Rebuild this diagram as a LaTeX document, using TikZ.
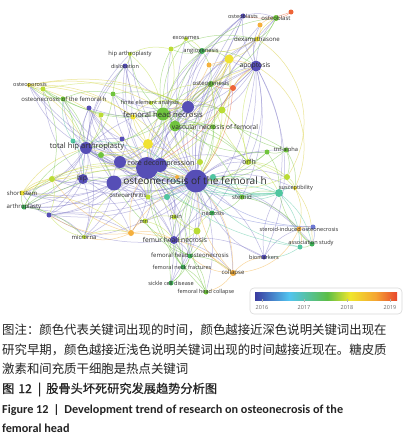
\documentclass[tikz,border=0pt]{standalone}
\usepackage{fontspec}
\setmainfont{Open Sans}
\newfontfamily\labf{Open Sans}
\newfontfamily\cjk{Noto Sans CJK SC}
\newfontfamily\cjkm[FakeBold=0.6]{Noto Sans CJK SC}
\newfontfamily\capf{Carlito}
\usetikzlibrary{backgrounds}
\definecolor{cpur}{RGB}{86,78,182}
\definecolor{cblue}{RGB}{110,122,212}
\definecolor{cteal}{RGB}{80,198,160}
\definecolor{cgreen}{RGB}{112,196,62}
\definecolor{cdgreen}{RGB}{62,176,86}
\definecolor{cyg}{RGB}{186,220,52}
\definecolor{cyel}{RGB}{240,226,50}
\definecolor{corange}{RGB}{245,175,60}
\definecolor{cred}{RGB}{238,100,55}
\definecolor{labc}{RGB}{45,45,45}
\definecolor{capc}{RGB}{35,35,35}
\definecolor{vbzero}{RGB}{58,60,160}
\definecolor{vbone}{RGB}{82,196,240}
\definecolor{vbtwo}{RGB}{92,190,70}
\definecolor{vbthree}{RGB}{240,230,45}
\definecolor{vbfour}{RGB}{245,165,50}
\definecolor{vbfive}{RGB}{232,70,45}
\pgfdeclarehorizontalshading{vos}{100bp}{color(0bp)=(vbzero); color(25bp)=(vbzero); color(37bp)=(vbone); color(50.5bp)=(vbtwo); color(58.5bp)=(vbthree); color(67.5bp)=(vbfour); color(75bp)=(vbfive); color(100bp)=(vbfive)}
\tikzset{
  dot/.style={circle, inner sep=0pt, draw=none, fill=#1},
  lab/.style={inner sep=0pt, text=labc, font=\labf\fontsize{#1pt}{#1pt}\selectfont},
  edge/.style={line width=0.5pt, draw=#1, draw opacity=0.5},
  capline/.style={anchor=base west, inner sep=0pt, text=capc},
  legendbox/.style={draw=gray!30, line width=0.6pt, rounded corners=4pt, minimum width=152pt, minimum height=26pt, inner sep=0pt},
  ticklab/.style={inner sep=0pt, text=gray!80!black, font=\labf\fontsize{5.5pt}{5.5pt}\selectfont}
}
\begin{document}
\begin{tikzpicture}[x=1pt,y=-1pt]
\useasboundingbox (0,0) rectangle (409,442);
% nodes: name/x/y/diameter/colour
\foreach \n/\x/\y/\d/\c in {
 onfh/196/181/23/cpur, cdA/147/168/22/cpur, cdB/160/165/14/cpur, pTop/188/107/12/cpur,
 fhn/163/114/13/cgreen, tha/86/148/12/cpur, hip/83/179/10/cpur, pL/114/183/15/cpur,
 pM/120/162/12/cpur, apop/256/66/11/cpur, yBig/148/144/10/cyel, vnf/175/126/11/cgreen,
 yApop/229/59/9/cyel, tBig/279/193/8/cteal,
 obs/243/16/5/cpur, ob/276/18/6/cgreen, oR/291/12/5/cred, oO/260/25/5/corange,
 dex/257/39/5/cyel, oA/209/65/5/corange, ang/202/51/6/cdgreen, gA/171/49/5/cyg,
 exo/186/39/4/cyg, hipa/130/54/4/cyg, disl/125/66/5/cpur, osteop/29/85/4/cyel,
 gB/43/89/5/cyg, onfhs/63/99/5/cgreen, gC/113/94/5/cgreen, fea/151/103/4/cyg,
 pS/89/108/5/cpur, ygA/101/115/5/cyg, yS/133/117/5/cyel, ogen/211/84/6/cgreen,
 rA/233/88/6/cred, ygB/222/110/7/cyg, gD/213/127/5/cgreen, tA/73/141/5/cteal,
 pN/122/139/5/cpur, gE/101/155/6/cgreen, ygC/200/162/6/cyg, orfh/248/162/6/cyg,
 gF/267/152/5/cgreen, tnf/286/150/5/cgreen, oB/177/177/4/corange, tB/213/177/6/cteal,
 ygD/52/179/6/cyg, sstem/22/193/5/cyel, arth/24/207/5/cdgreen, pO/49/215/5/cpur,
 oa/148/197/5/cyg, tC/167/197/6/cteal, ygE/287/177/6/cyg, susc/295/188/4/cyel,
 ster/242/197/5/cgreen, necr/212/213/5/cdgreen, mri/145/221/5/cyg, pain/174/217/5/cyg,
 mirna/84/237/4/cyg, oC/131/233/6/corange, fhntwo/174/240/8/cpur, ygF/197/231/7/cyg,
 fho/190/256/5/cdgreen, fnf/183/267/5/cdgreen, coll/233/273/6/corange, scd/171/283/5/cdgreen,
 fhc/206/292/5/cgreen, sio/299/229/5/corange, bS/313/227/5/cblue, assoc/312/244/5/cdgreen,
 tD/300/247/5/cteal, biom/264/257/5/cpur}
 \node[dot=\c, minimum size=\d pt] (\n) at (\x,\y) {};
\begin{scope}[on background layer]
\fill[white] (0,0) rectangle (409,442);
% purple edges
\foreach \a/\b in {onfh/cdA, onfh/cdB, onfh/tha, onfh/hip, onfh/pL, onfh/pM, onfh/pTop, onfh/apop, onfh/fhntwo, onfh/biom, onfh/obs, onfh/disl, onfh/pO, onfh/arth, onfh/sio, onfh/necr, onfh/ster, onfh/mri, onfh/pain, onfh/oa, onfh/orfh, onfh/tnf, onfh/fhn, onfh/vnf, onfh/ygF, onfh/coll, onfh/pS, onfh/ygD, onfh/mirna, onfh/assoc, onfh/susc, onfh/dex, onfh/ogen,
 onfh/ob, onfh/oO, onfh/yApop, onfh/gA, onfh/exo, onfh/ang, onfh/hipa, onfh/tA, onfh/sstem, onfh/gE, onfh/fnf, onfh/scd, onfh/fhc, onfh/gF, onfh/ygE, onfh/gC, onfh/osteop,
 cdA/tha, cdA/hip, cdA/pL, cdA/pM, cdA/fhntwo, cdA/pTop, cdA/disl, cdA/pO, cdA/oa, cdA/mri, cdA/ygD, cdA/pS, cdA/tA, cdA/sstem, cdA/apop, cdA/pN, cdA/arth, cdA/fho,
 cdA/obs, cdA/ang, cdA/dex, cdA/gC, cdA/onfhs, cdA/osteop, cdA/mirna, cdA/oC, cdA/fnf, cdA/scd, cdA/pain, cdA/necr, cdA/ster, cdA/hipa,
 cdB/pTop, cdB/tha, cdB/apop, cdB/fhntwo, cdB/pain, cdB/pL, cdB/hip, cdB/obs, cdB/orfh,
 tha/hip, tha/pL, tha/pM, tha/disl, tha/pS, tha/arth, tha/sstem, tha/pTop, tha/pO, tha/pN, tha/osteop, tha/onfhs, tha/ygD, tha/mirna, tha/fhntwo, tha/oa, tha/hipa,
 hip/pL, hip/pO, hip/arth, hip/ygD, hip/sstem, hip/oC, hip/mirna, hip/pS, hip/disl, hip/gB,
 pL/pM, pL/pO, pL/fhntwo, pL/oa, pL/mirna, pL/arth, pL/sstem, pL/pS, pL/mri,
 pTop/apop, pTop/obs, pTop/fhn, pTop/pM, pTop/vnf, pTop/disl, pTop/ygB, pTop/gC, pTop/pS, pTop/dex, pTop/ang, pTop/ogen,
 pM/pS, pM/ygA, pN/pS,
 apop/obs, apop/ob, apop/dex, apop/oO, apop/ster, apop/yApop, apop/tBig, apop/fhntwo, apop/vnf, apop/fhn, apop/ygB, apop/necr, apop/orfh,
 fhntwo/biom, fhntwo/pO, fhntwo/fho, fhntwo/scd, fhntwo/fnf, fhntwo/coll, fhntwo/necr,
 biom/sio, biom/necr, biom/tBig, obs/pM, obs/ob, disl/pM, pO/mirna, pO/sstem, pO/oC}
 \draw[edge=cpur!75] (\a) to[bend left=18] (\b);
\draw[edge=cpur!75] (apop) to[bend left=25] (biom);
\draw[edge=cpur!75] (obs) to[bend left=10] (cdA);
% green edges
\foreach \a/\b in {fhn/vnf, fhn/gC, fhn/fea, fhn/onfhs, fhn/gA, fhn/ang, fhn/ogen, fhn/yBig, fhn/cdA, fhn/tha, fhn/hipa, fhn/gB, fhn/ygB, fhn/orfh, fhn/ster, fhn/exo,
 vnf/ogen, vnf/ang, vnf/orfh, vnf/tnf, vnf/gD, ang/ogen, ang/exo, ang/gA, ang/ob, ob/ogen, ob/dex,
 ang/apop, ang/yApop, ang/dex, gA/dex, gF/vnf, tnf/onfh, tnf/ygB,
 onfhs/osteop, onfhs/gB, onfhs/gC, onfhs/tA, onfhs/tha, gB/osteop, gB/tha, gB/ygD,
 fho/fnf, fho/scd, fho/fhc, fho/fhntwo, fho/onfh, fho/coll, fho/gE, fho/mri,
 fnf/scd, fnf/fhc, fnf/fhntwo, fnf/onfh, fnf/cdA, gC/tha, gC/disl, gC/pTop,
 tnf/gF, tnf/ygE, tnf/susc, gF/orfh, gF/tBig, gF/onfh, arth/sstem, arth/ygD, arth/pO, arth/tha, arth/onfh, arth/cdA, arth/mirna,
 assoc/tD, assoc/sio, assoc/tBig, ster/necr, ster/tBig, ster/sio, necr/onfh, necr/fho, necr/cdA,
 gE/cdA, gE/tha, ogen/ygB, ogen/rA, ogen/onfh, ogen/cdA, ogen/tha, gD/onfh, scd/onfh, fhc/onfh, fhc/cdA}
 \draw[edge=cgreen] (\a) to[bend left=18] (\b);
% yellow edges
\foreach \a/\b in {yBig/cdA, yBig/tha, yBig/fhn, yBig/onfh, yBig/pM, yBig/gE, yBig/yS, yBig/apop, osteop/pTop, osteop/yS, osteop/fea, osteop/tha, osteop/cdA, dex/ob, dex/yApop, dex/ang, yApop/ygB, yApop/ogen, yApop/fhn, yApop/oA, yApop/onfh, yApop/vnf, yApop/cdA, susc/sio, susc/assoc, sstem/ygD, sstem/oC, sstem/onfh, sstem/tha, sstem/cdA, sstem/hip, yS/fea, yS/cdA}
 \draw[edge=cyel!90!black] (\a) to[bend left=18] (\b);
\draw[edge=cyel!90!black] (apop) to[bend left=40] (susc);
\draw[edge=cyel!90!black] (dex) to[bend left=45] (ygE);
\draw[edge=cyel!90!black] (osteop) to[bend left=25] (onfh);
% yellow-green edges
\foreach \a/\b in {ygB/orfh, ygB/vnf, ygB/onfh, orfh/susc, orfh/ygE, orfh/onfh, orfh/tBig, ygF/pain, ygF/fhntwo, ygF/necr, mri/pain, mri/fhntwo, ygA/pS, ygA/tha, fea/pTop, hipa/disl, hipa/fhn, exo/gA, gA/fhn, ygD/pO, mirna/pO, mirna/oC, oa/cdA, oa/onfh, ygC/onfh, ygC/cdB, ygE/susc, ygE/onfh, ygC/fhn, gB/pTop,
 exo/ang, hipa/gA, fea/ygB, fea/ogen, ygB/apop, ygB/cdA, ygC/ygB, orfh/ogen, orfh/apop, ygD/cdA, ygD/onfh, mirna/cdA, ygF/cdA}
 \draw[edge=cyg] (\a) to[bend left=18] (\b);
% orange edges
\foreach \a/\b in {coll/fho, coll/fhc, coll/onfh, coll/biom, coll/ygF, oC/mirna, oC/mri, oC/fhntwo, oC/onfh, oC/ygD, oC/coll, oC/pO, sio/bS, sio/tD, oO/ob, oA/fhn, oB/onfh, oB/cdA, oO/dex, oA/apop, oC/cdA}
 \draw[edge=corange] (\a) to[bend left=18] (\b);
\draw[edge=corange] (coll) to[bend right=30] (sio);
\draw[edge=corange] (coll) to[bend right=20] (onfh);
% red edges
\foreach \a/\b in {oR/ob, oR/obs, rA/onfh, rA/apop, rA/ogen, rA/cdA}
 \draw[edge=cred] (\a) to[bend left=15] (\b);
% teal edges
\foreach \a/\b in {tBig/onfh, tBig/susc, tBig/assoc, tBig/tD, tBig/ster, tA/tha, tA/onfhs, tA/hip, tB/onfh, tB/ster, tB/tBig, tC/onfh, tC/oa, tD/onfh, tD/biom, tBig/cdA, tD/cdA, tC/tBig, tA/onfh}
 \draw[edge=cteal] (\a) to[bend left=18] (\b);
\draw[edge=cteal, line width=0.9pt] (onfh) to[bend right=10] (tBig);
\draw[edge=cteal, line width=0.8pt] (cdA) to[bend right=15] (tBig);
\foreach \a/\b in {bS/onfh, bS/assoc, bS/sio, bS/cdA}
 \draw[edge=cblue] (\a) to[bend left=18] (\b);
\end{scope}
% labels
\node[lab=5.7] (texo) at (186,38) {exosomes};
\node[lab=5.8] (tang) at (201,51) {angiogenesis};
\node[lab=5.8] (thipa) at (130,54) {hip arthroplasty};
\node[lab=5.5] (tdisl) at (125,66) {dislocation};
\node[lab=5.6] (tosteop) at (30,85) {osteoporosis};
\node[lab=6.0] (tonfhs) at (64,99) {osteonecrosis of the femoral h};
\node[lab=5.6] (tfea) at (150,103) {finite element analysis};
\node[lab=7.7] (tfhn) at (163,115) {femoral head necrosis};
\node[lab=6.6] (tvnf) at (215,127) {vascular necrosis of femoral};
\node[lab=7.6] (ttha) at (87,147) {total hip arthroplasty};
\node[lab=5.6] (tobs) at (243,16) {osteoblasts};
\node[lab=6.0] (tob) at (276,18) {osteoblast};
\node[lab=6.1] (tdex) at (257,39) {dexamethasone};
\node[lab=6.8] (tapop) at (255,66) {apoptosis};
\node[lab=6.0] (togen) at (211,84) {osteogenesis};
\node[lab=7.1] (tcd) at (161,164) {core decompression};
\node[lab=6.7] (thip) at (82,179) {hip};
\node[lab=10.1] (tonfh) at (195,181) {osteonecrosis of the femoral h};
\node[lab=6.8] (torfh) at (249,162) {orfh};
\node[lab=5.7] (ttnf) at (286,150) {tnf-alpha};
\node[lab=6.0] (tsstem) at (22,193) {short stem};
\node[lab=6.1] (tarth) at (24,207) {arthroplasty};
\node[lab=5.9] (toa) at (128,195) {osteoarthritis};
\node[lab=5.6] (tsusc) at (296,188) {susceptibility};
\node[lab=6.1] (tster) at (242,197) {steroid};
\node[lab=5.7] (tnecr) at (213,213) {necrosis};
\node[lab=5.5] (tmri) at (144,221) {mri};
\node[lab=5.7] (tpain) at (176,217) {pain};
\node[lab=5.9] (tmirna) at (84,237) {microrna};
\node[lab=6.7] (tfhntwo) at (175,240) {femur head necrosis};
\node[lab=6.0] (tfho) at (190,255) {femoral head osteonecrosis};
\node[lab=5.6] (tfnf) at (182,267) {femoral neck fractures};
\node[lab=6.0] (tcoll) at (233,273) {collapse};
\node[lab=5.6] (tscd) at (171,283) {sickle cell disease};
\node[lab=5.5] (tfhc) at (206,292) {femoral head collapse};
\node[lab=5.6] (tsio) at (299,229) {steroid-induced osteonecrosis};
\node[lab=5.6] (tassoc) at (311,243) {association study};
\node[lab=5.6] (tbiom) at (264,257) {biomarkers};
% legend
\node[legendbox] (leg) at (326,301) {};
\shade[shading=vos] (255,292) rectangle (397,300);
\foreach \xx/\yr in {262/2016, 304/2017, 347/2018, 390/2019}{
  \draw[gray!60, line width=0.4pt] (\xx,299) -- (\xx,302);
  \node[ticklab] (y\yr) at (\xx,308) {\yr};
}
% caption
\node[capline, font=\cjk\fontsize{12.4pt}{12.4pt}\selectfont] (c1) at (2,334.7) {图注：颜色代表关键词出现的时间，颜色越接近深色说明关键词出现在};
\node[capline, font=\cjk\fontsize{12.4pt}{12.4pt}\selectfont] (c2) at (2,354.7) {研究早期，颜色越接近浅色说明关键词出现的时间越接近现在。糖皮质};
\node[capline, font=\cjk\fontsize{12.4pt}{12.4pt}\selectfont] (c3) at (2,373.7) {激素和间充质干细胞是热点关键词};
\node[capline, font=\cjkm\fontsize{12.2pt}{12.2pt}\selectfont] (c4) at (2,393) {图\hspace{4pt}12\hspace{6pt}|\hspace{5pt}股骨头坏死研究发展趋势分析图};
\node[capline, font=\capf\bfseries\fontsize{12.2pt}{12.2pt}\selectfont] (c5) at (2,413) {Figure 12\hspace{5pt}|\hspace{5pt}Development trend of research on osteonecrosis of the};
\node[capline, font=\capf\bfseries\fontsize{12.2pt}{12.2pt}\selectfont] (c6) at (2,432) {femoral head};
\end{tikzpicture}
\end{document}
